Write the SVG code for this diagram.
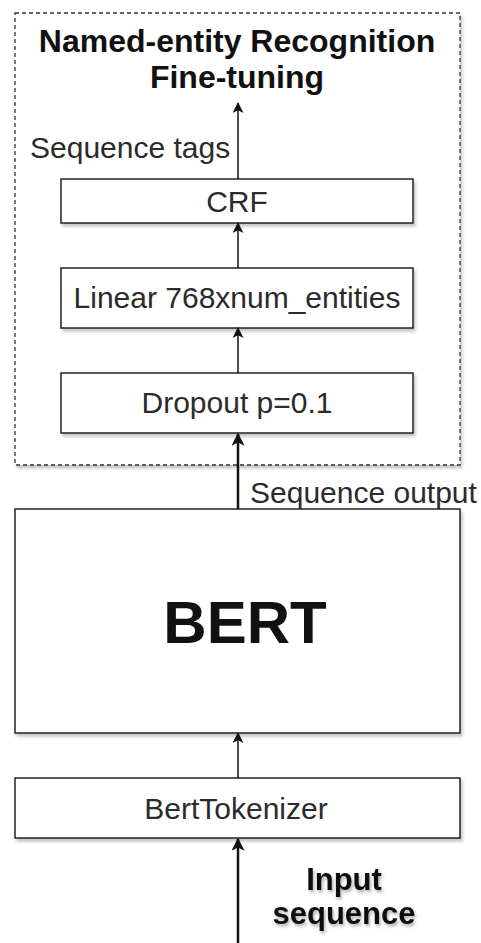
<svg xmlns="http://www.w3.org/2000/svg" width="481" height="943" viewBox="0 0 481 943">
  <defs>
    <filter id="shadow" x="-5%" y="-5%" width="115%" height="115%">
      <feDropShadow dx="2" dy="3" stdDeviation="1.5" flood-color="#000" flood-opacity="0.22"/>
    </filter>
    <filter id="textShadow" x="-10%" y="-20%" width="125%" height="150%">
      <feDropShadow dx="1.5" dy="2.5" stdDeviation="1.5" flood-color="#000" flood-opacity="0.3"/>
    </filter>
    <marker id="arrow" viewBox="0 0 10 10" refX="9" refY="5" markerWidth="12" markerHeight="11" markerUnits="userSpaceOnUse" orient="auto">
      <path d="M0,0 L10,5 L0,10 L2.5,5 Z" fill="#111"/>
    </marker>
    <marker id="arrowBig" viewBox="0 0 10 10" refX="9" refY="5" markerWidth="14" markerHeight="13" markerUnits="userSpaceOnUse" orient="auto">
      <path d="M0,0 L10,5 L0,10 L2.5,5 Z" fill="#111"/>
    </marker>
  </defs>
  <style>
    .box { fill: #fff; stroke: #222; stroke-width: 1.5; filter: url(#shadow); }
    .group { fill: #fff; stroke: #333; stroke-width: 1.3; stroke-dasharray: 4 3; filter: url(#shadow); }
    .lbl { font-family: "Liberation Sans", Arial, sans-serif; font-size: 30px; fill: #2b2b2b; }
    .bold { font-family: "Liberation Sans", Arial, sans-serif; font-weight: bold; font-size: 32px; fill: #111; }
    .edge { stroke: #111; stroke-width: 1.5; fill: none; marker-end: url(#arrow); }
    .edge-thick { stroke: #111; stroke-width: 2.5; fill: none; marker-end: url(#arrowBig); }
  </style>

  <!-- fine-tuning container -->
  <g id="ner-finetuning">
    <rect class="group" x="15" y="13" width="445" height="452"/>
    <text class="bold" x="237" y="52" text-anchor="middle">Named-entity Recognition</text>
    <text class="bold" x="237" y="88" text-anchor="middle">Fine-tuning</text>
  </g>

  <g id="crf">
    <rect class="box" x="61" y="179" width="352" height="44"/>
    <text class="lbl" x="237" y="212" text-anchor="middle">CRF</text>
  </g>

  <g id="linear">
    <rect class="box" x="61" y="268" width="352" height="60"/>
    <text class="lbl" x="237" y="308" text-anchor="middle">Linear 768xnum_entities</text>
  </g>

  <g id="dropout">
    <rect class="box" x="61" y="373" width="352" height="60"/>
    <text class="lbl" x="237" y="413" text-anchor="middle">Dropout p=0.1</text>
  </g>

  <g id="bert">
    <rect class="box" x="15" y="509" width="445" height="224"/>
    <text class="bold" x="245" y="643" text-anchor="middle" style="font-size:60px">BERT</text>
  </g>

  <g id="tokenizer">
    <rect class="box" x="15" y="778" width="445" height="60"/>
    <text class="lbl" x="236" y="819" text-anchor="middle">BertTokenizer</text>
  </g>

  <!-- connectors -->
  <g id="connectors">
    <line class="edge" x1="238" y1="179" x2="238" y2="103"/>
    <line class="edge" x1="238" y1="268" x2="238" y2="223"/>
    <line class="edge" x1="238" y1="373" x2="238" y2="328"/>
    <line class="edge-thick" x1="238" y1="509" x2="238" y2="434"/>
    <line class="edge" x1="238" y1="778" x2="238" y2="733"/>
    <line class="edge-thick" x1="238" y1="943" x2="238" y2="839"/>
    <text class="lbl" x="30" y="158">Sequence tags</text>
    <text class="lbl" x="250" y="503">Sequence output</text>
    <g filter="url(#textShadow)">
      <text class="bold" x="344" y="890" text-anchor="middle" style="font-size:31px">Input</text>
      <text class="bold" x="344" y="924" text-anchor="middle" style="font-size:31px">sequence</text>
    </g>
  </g>
</svg>
